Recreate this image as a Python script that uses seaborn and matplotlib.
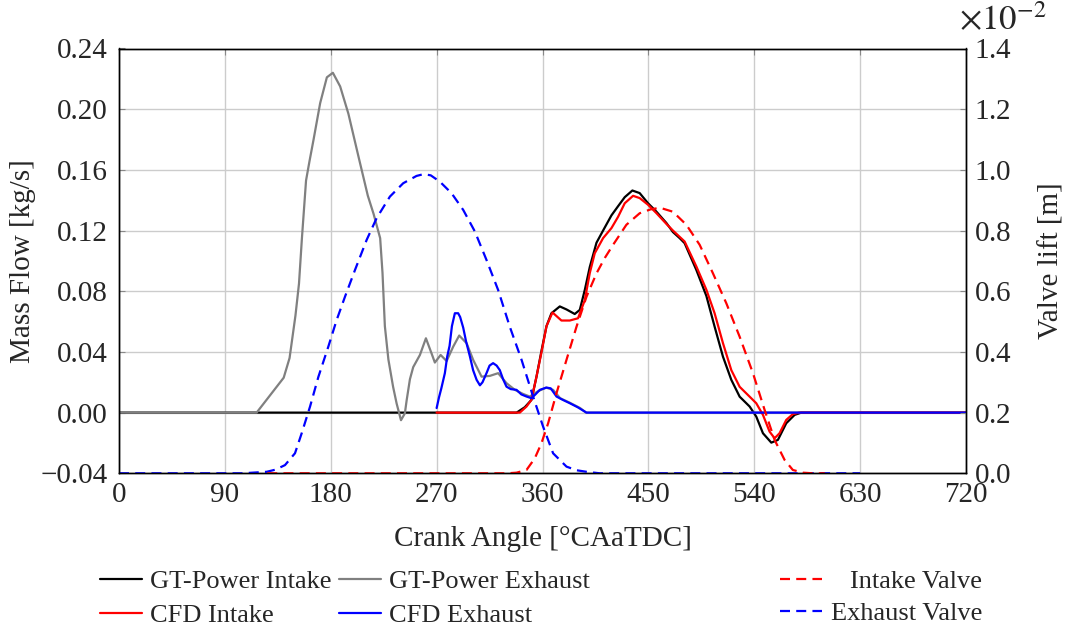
import numpy as np
import pandas as pd
import matplotlib
matplotlib.use("Agg")
import matplotlib.pyplot as plt
import seaborn as sns
from matplotlib.ticker import FuncFormatter, ScalarFormatter
from matplotlib.lines import Line2D

# ---------------- data: crank angle [deg] and mass flow [kg/s] ----------------
gt_exh_angle = [0, 117, 128, 140, 145, 150, 153, 155.5, 159, 162, 165.4, 171, 176.7,
                181.8, 188, 195, 203.5, 211.5, 216.4, 222, 224, 226, 229, 233, 236,
                239.7, 243, 244.5, 247.3, 250.1, 255.8, 260.9, 265.7, 268.5, 273.4,
                278.5, 284.1, 289.2, 295.5, 301.1, 308.2, 315.2, 322.3, 329.4, 336.5,
                343.5, 349.2, 356, 363, 369, 375, 383, 392, 397, 720]
gt_exh_flow = [0.0, 0.0, 0.011, 0.023, 0.036, 0.064, 0.085, 0.115, 0.153, 0.166, 0.180,
               0.204, 0.221, 0.224, 0.215, 0.197, 0.169, 0.143, 0.131, 0.115, 0.092,
               0.057, 0.035, 0.017, 0.006, -0.005, -0.0005, 0.008, 0.022, 0.030, 0.038,
               0.049, 0.039, 0.033, 0.038, 0.034, 0.0435, 0.0508, 0.0457, 0.0347,
               0.0237, 0.0242, 0.026, 0.0194, 0.015, 0.0123, 0.0106, 0.014, 0.0165,
               0.015, 0.0095, 0.0066, 0.003, 0.0, 0.0]

gt_int_angle = [0, 338, 345, 350.6, 354.9, 359.2, 363.4, 367.6, 374.7, 380.4, 387.4,
                391.7, 396, 400.2, 405.9, 411.5, 418.6, 424.2, 429.9, 436.4, 442.6,
                449.7, 456.8, 465.3, 470.9, 476.6, 480.8, 490.8, 499.3, 506.3, 513.4,
                520.5, 527.6, 536.1, 541.7, 547.4, 554.5, 560.1, 567.2, 574.3, 580, 720]
gt_int_flow = [0.0, 0.0, 0.0036, 0.0084, 0.0237, 0.041, 0.057, 0.0655, 0.070, 0.068,
               0.065, 0.0677, 0.081, 0.096, 0.112, 0.120, 0.130, 0.136, 0.142, 0.1464,
               0.1447, 0.138, 0.1325, 0.125, 0.119, 0.115, 0.1117, 0.094, 0.0769,
               0.0567, 0.0369, 0.0216, 0.0105, 0.004, -0.0026, -0.0136, -0.0198,
               -0.018, -0.007, -0.0015, 0.0, 0.0]

cfd_int_angle = [270, 340.7, 346.4, 350.6, 354.9, 359.2, 363.4, 368.5, 376.1, 383.2,
                 390.2, 395.9, 400.2, 404.4, 411.5, 418.6, 424.2, 429.9, 437, 442.6,
                 449.7, 456.8, 465.3, 470.9, 480.8, 490.8, 499.3, 506.3, 513.4, 520.5,
                 527.6, 536.1, 541.7, 547.4, 553, 557.3, 561.5, 567.2, 572.8, 578.5, 720]
cfd_int_flow = [0.0, 0.0, 0.004, 0.0084, 0.0237, 0.040, 0.057, 0.066, 0.0607, 0.0607,
                0.0622, 0.074, 0.092, 0.105, 0.115, 0.1216, 0.129, 0.138, 0.1429,
                0.1414, 0.137, 0.1315, 0.1244, 0.120, 0.1128, 0.0963, 0.081, 0.0655,
                0.0458, 0.028, 0.017, 0.0105, 0.0062, -0.0015, -0.0125, -0.0169,
                -0.0136, -0.0048, -0.001, 0.0, 0.0]

cfd_exh_angle = [270, 272, 274, 277, 279, 281, 283, 285.5, 288.3, 290, 292.6, 295,
                 298.3, 301, 304, 306.8, 309, 312.4, 315, 318, 321, 323.7, 326.5, 329.4,
                 333, 337.9, 342, 346.4, 350.6, 354, 357.7, 363.4, 367, 371.9, 377,
                 383.2, 390, 397.4, 720]
cfd_exh_flow = [0.003, 0.010, 0.016, 0.026, 0.037, 0.044, 0.057, 0.0655, 0.0655, 0.063,
                0.056, 0.047, 0.037, 0.028, 0.0216, 0.018, 0.020, 0.026, 0.031, 0.0326,
                0.031, 0.028, 0.022, 0.0171, 0.0155, 0.015, 0.012, 0.0106, 0.0095,
                0.012, 0.015, 0.0165, 0.016, 0.0106, 0.0085, 0.0062, 0.0035, 0.0, 0.0]

# ---------------- data: valve lift [m] ----------------
exh_valve_angle = [0, 105, 125.6, 133, 141.1, 149.6, 155.3, 162.4, 169.5, 177.9, 185,
                   192.1, 200.6, 210.5, 219, 230.3, 241.6, 252.9, 259, 265, 272.8,
                   282.7, 292.6, 302.5, 312.4, 322.3, 332.2, 342.2, 352, 360.5, 369,
                   380.4, 389, 397.4, 408.7, 630]
exh_valve_lift = [0.0, 0.0, 0.00005, 0.00012, 0.00027, 0.00066, 0.00132, 0.00220,
                  0.00318, 0.00417, 0.00505, 0.00582, 0.00670, 0.00769, 0.00841,
                  0.00912, 0.00956, 0.00980, 0.00986, 0.00982, 0.00961, 0.00923,
                  0.00868, 0.00797, 0.00703, 0.00604, 0.00483, 0.00374, 0.00253,
                  0.00154, 0.00066, 0.00022, 0.00010, 0.00005, 0.0, 0.0]

int_valve_angle = [126, 330, 337.9, 346.4, 353.4, 359.1, 364.8, 371.9, 380.4, 388.9,
                   397.4, 405.9, 413, 420, 431.3, 442.6, 452, 460, 470.9, 482.3, 493.6,
                   504.9, 516.3, 527.6, 538.9, 548.8, 557.3, 565.8, 572.8, 581.3, 590,
                   600]
int_valve_lift = [0.0, 0.0, 0.00002, 0.00011, 0.00049, 0.00099, 0.00165, 0.00264,
                  0.00374, 0.00483, 0.00582, 0.00659, 0.00710, 0.00753, 0.00819,
                  0.00857, 0.00870, 0.00875, 0.00862, 0.00819, 0.00753, 0.00659,
                  0.00560, 0.00450, 0.00330, 0.00209, 0.00110, 0.00044, 0.00011,
                  0.00002, 0.0, 0.0]

x_ticks = [0, 90, 180, 270, 360, 450, 540, 630, 720]
flow_ticks = [-0.04, 0.0, 0.04, 0.08, 0.12, 0.16, 0.20, 0.24]
lift_ticks = [0.0, 0.002, 0.004, 0.006, 0.008, 0.010, 0.012, 0.014]

# ---------------- style ----------------
sns.set_theme(style="whitegrid")
plt.rcParams.update({
    "font.family": ["Liberation Serif", "DejaVu Serif"],
    "mathtext.fontset": "stix",
    "axes.edgecolor": "black",
    "axes.linewidth": 1.0,
    "grid.color": "#cccccc",
    "grid.linewidth": 1.0,
})
FS = 21
LEG_FS = 19

W, H = 1071, 626
fig = plt.figure(figsize=(W / 100, H / 100), dpi=100)
x0, x1, ytop, ybot = 119, 966, 48.5, 473.3
ax = fig.add_axes([x0 / W, 1 - ybot / H, (x1 - x0) / W, (ybot - ytop) / H])
ax.set_facecolor("white")

LW = 1.6
DASH = (0, (4.5, 2.8))

sns.lineplot(x=gt_int_angle, y=gt_int_flow, ax=ax, color="black", lw=LW, sort=False, estimator=None)
sns.lineplot(x=gt_exh_angle, y=gt_exh_flow, ax=ax, color="#808080", lw=LW, sort=False, estimator=None)
sns.lineplot(x=cfd_int_angle, y=cfd_int_flow, ax=ax, color="red", lw=LW, sort=False, estimator=None)
sns.lineplot(x=cfd_exh_angle, y=cfd_exh_flow, ax=ax, color="blue", lw=LW, sort=False, estimator=None)

ax.set_xlim(0, 720)
ax.set_ylim(-0.04, 0.24)
ax.set_xticks(x_ticks)
ax.set_yticks(flow_ticks)
ax.yaxis.set_major_formatter(FuncFormatter(
    lambda v, p: f"{v:.2f}".replace("-0.00", "0.00").replace("-", "\u2212")))
ax.set_xlabel("Crank Angle [°CAaTDC]", fontsize=FS, labelpad=13)
ax.set_ylabel("Mass Flow [kg/s]", fontsize=FS, labelpad=3)
ax.tick_params(axis="y", labelsize=FS, direction="in", length=4, width=0.8,
               color="#888888", pad=8)
ax.tick_params(axis="x", labelsize=FS, direction="in", length=4, width=0.8,
               color="#888888", top=True, pad=6)
ax.grid(True, color="#cccccc", linewidth=1.0)
for s in ax.spines.values():
    s.set_color("black")
    s.set_linewidth(1.0)

ax2 = ax.twinx()
ax2.grid(False)
sns.lineplot(x=exh_valve_angle, y=exh_valve_lift, ax=ax2, color="blue", lw=1.6,
             linestyle=DASH, sort=False, estimator=None)
sns.lineplot(x=int_valve_angle, y=int_valve_lift, ax=ax2, color="red", lw=1.6,
             linestyle=DASH, sort=False, estimator=None)
ax2.set_ylim(0, 0.014)
ax2.set_yticks(lift_ticks)
fmt = ScalarFormatter(useMathText=True)
fmt.set_powerlimits((-2, -2))
ax2.yaxis.set_major_formatter(fmt)
ax2.yaxis.get_offset_text().set_visible(False)
fig.text(959 / W, 1 - 30 / H, r"$\times10^{-2}$", fontsize=25, va="baseline", ha="left")
ax2.set_ylabel("Valve lift [m]", fontsize=FS, labelpad=19)
ax2.tick_params(axis="y", labelsize=FS, direction="in", length=4, width=0.8,
                color="#888888", pad=6)
for s in ax2.spines.values():
    s.set_color("black")
    s.set_linewidth(1.0)

# ---------------- legends ----------------
h_gti = Line2D([], [], color="black", lw=LW)
h_cfi = Line2D([], [], color="red", lw=LW)
h_gte = Line2D([], [], color="#808080", lw=LW)
h_cfe = Line2D([], [], color="blue", lw=LW)
h_iv = Line2D([], [], color="red", lw=1.6, linestyle=DASH)
h_ev = Line2D([], [], color="blue", lw=1.6, linestyle=DASH)

fs_px = LEG_FS * 100 / 72
hl_px = 42
leg_top = 570
fig.legend([h_gti, h_cfi, h_gte, h_cfe],
           ["GT-Power Intake", "CFD Intake", "GT-Power Exhaust", "CFD Exhaust"],
           ncol=2, loc="upper left", bbox_to_anchor=(100 / W, 1 - leg_top / H),
           frameon=False, fontsize=LEG_FS, handlelength=hl_px / fs_px,
           handletextpad=0.3, columnspacing=0.3, labelspacing=0.39, borderpad=0,
           borderaxespad=0)

renderer = fig.canvas.get_renderer()
right_edge, handle_start = 982, 780
row_tops = [leg_top, leg_top + 32]
for handle, label, top in [(h_iv, "Intake Valve", row_tops[0]),
                           (h_ev, "Exhaust Valve", row_tops[1])]:
    t = fig.text(0, 0, label, fontsize=LEG_FS)
    tw = t.get_window_extent(renderer).width
    t.remove()
    pad = (right_edge - handle_start - hl_px - tw) / fs_px
    fig.legend([handle], [label], loc="upper right",
               bbox_to_anchor=(right_edge / W, 1 - top / H), frameon=False,
               fontsize=LEG_FS, handlelength=hl_px / fs_px,
               handletextpad=pad, borderpad=0, borderaxespad=0)

fig.savefig("out.png", dpi=100)
